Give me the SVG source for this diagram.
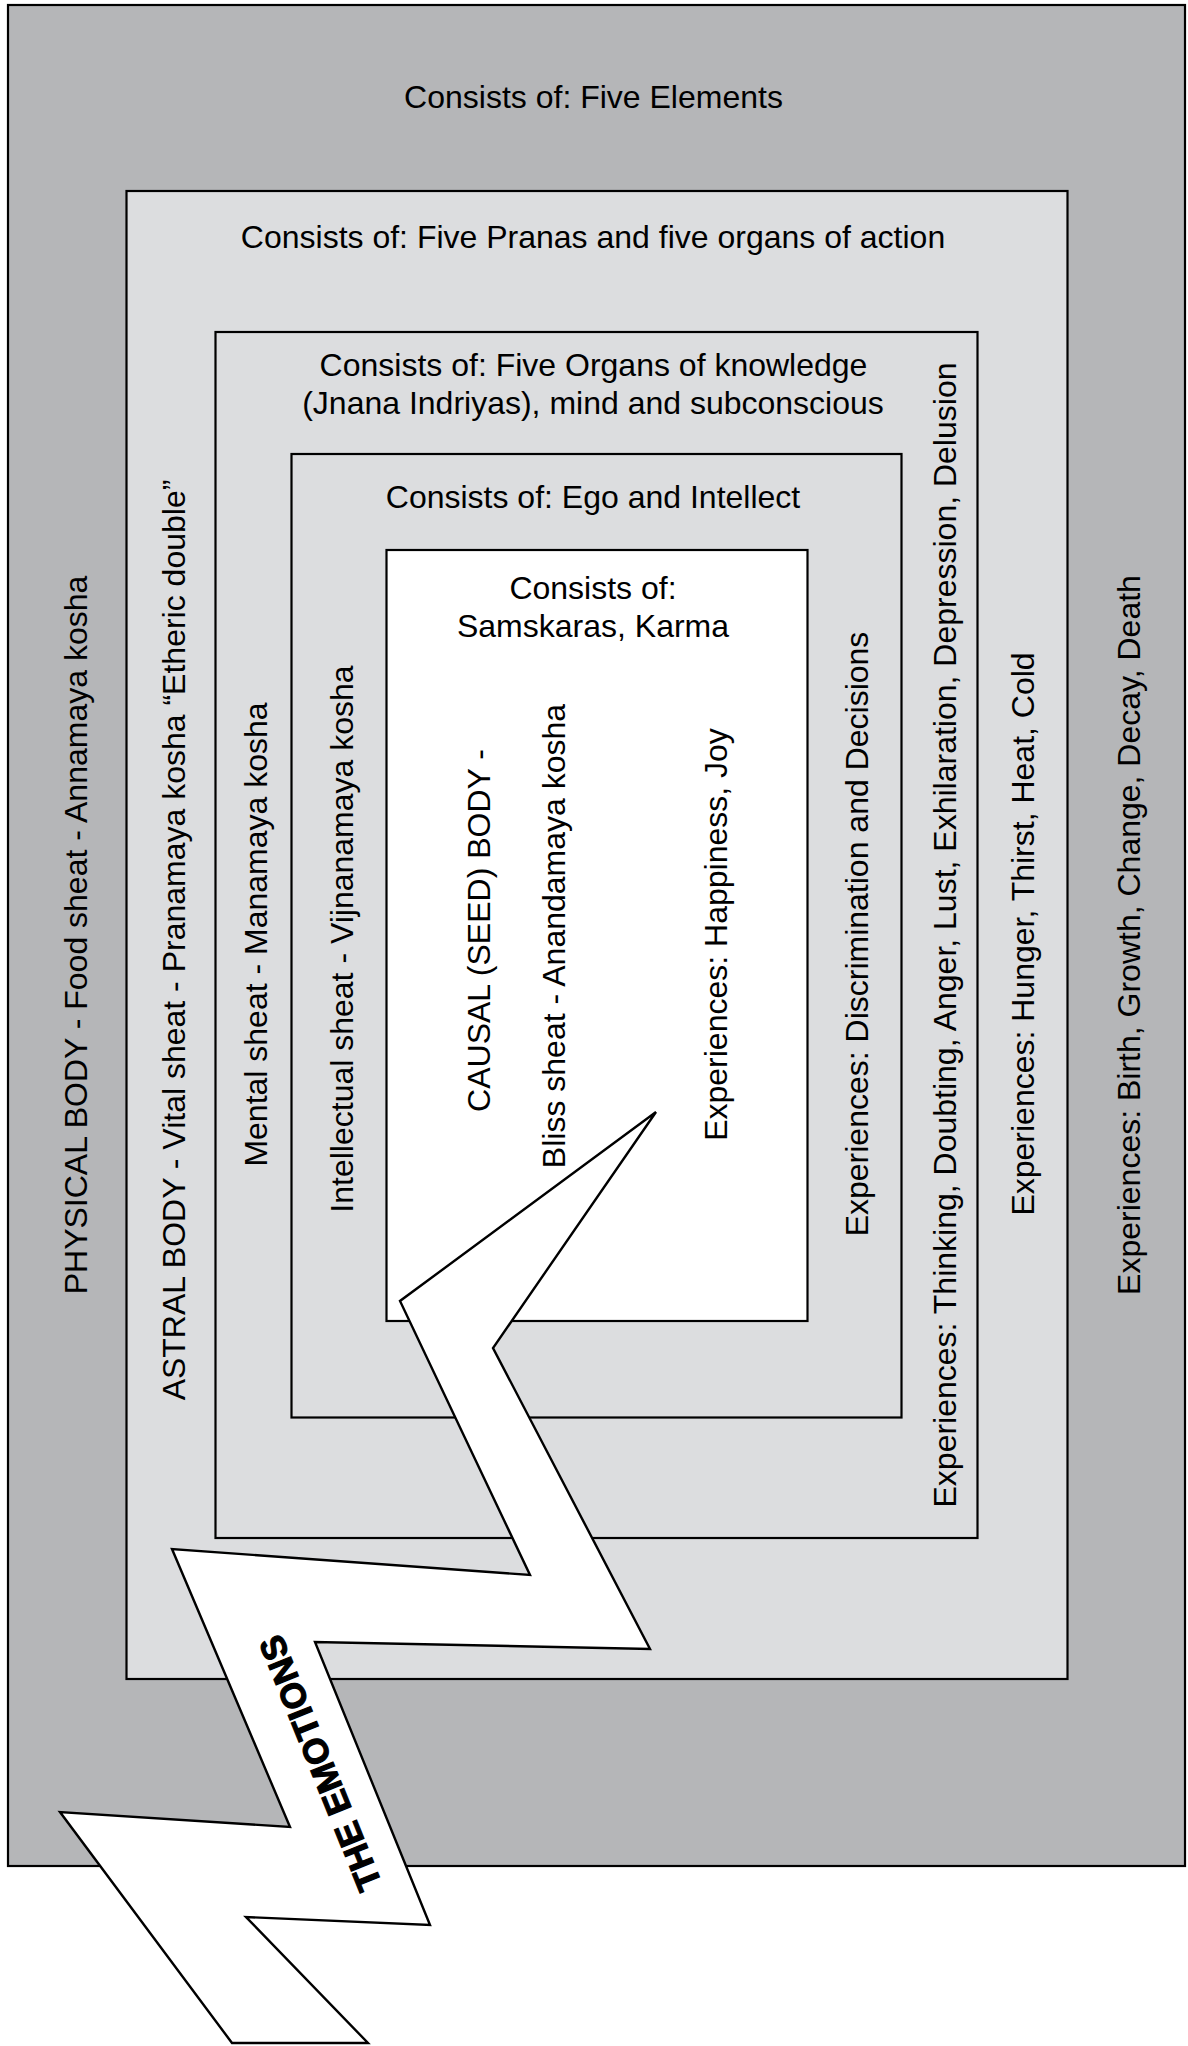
<svg xmlns="http://www.w3.org/2000/svg" width="1188" height="2046" viewBox="0 0 1188 2046">
<style>
  .box { stroke: #000; stroke-width: 2.2; }
  .dark { fill: #b5b6b8; }
  .light { fill: #dcdddf; }
  .white { fill: #ffffff; }
  .t { font-family: "Liberation Sans", Arial, Helvetica, sans-serif; font-size: 32px; fill: #000; text-anchor: middle; }
  .bolt { fill: #ffffff; stroke: #000; stroke-width: 2.4; stroke-linejoin: miter; }
  .bt { font-family: "Liberation Sans", Arial, Helvetica, sans-serif; font-size: 35px; font-weight: bold; fill: #000; stroke: #000; stroke-width: 1.2; text-anchor: middle; letter-spacing: 0.5px; }
</style>
<rect width="1188" height="2046" fill="#ffffff"/>

<g id="physical-body">
  <rect class="box dark" x="8" y="5" width="1177" height="1861"/>
  <text class="t" x="593.5" y="108">Consists of: Five Elements</text>
  <text class="t" transform="translate(87,935) rotate(-90)">PHYSICAL BODY - Food sheat - Annamaya kosha</text>
  <text class="t" transform="translate(1140,935) rotate(-90)">Experiences: Birth, Growth, Change, Decay, Death</text>
</g>

<g id="astral-body">
  <rect class="box light" x="126.5" y="191" width="941" height="1488"/>
  <text class="t" x="593" y="248">Consists of: Five Pranas and five organs of action</text>
  <text class="t" transform="translate(185,940) rotate(-90)">ASTRAL BODY - Vital sheat - Pranamaya kosha “Etheric double”</text>
  <text class="t" transform="translate(1034,934) rotate(-90)">Experiences: Hunger, Thirst, Heat, Cold</text>
</g>

<g id="mental-sheat">
  <rect class="box light" x="215.5" y="332" width="762" height="1206"/>
  <text class="t" x="593.5" y="376">Consists of: Five Organs of knowledge</text>
  <text class="t" x="593" y="414">(Jnana Indriyas), mind and subconscious</text>
  <text class="t" transform="translate(267,934.5) rotate(-90)">Mental sheat - Manamaya kosha</text>
  <text class="t" transform="translate(956,935) rotate(-90)">Experiences: Thinking, Doubting, Anger, Lust, Exhilaration, Depression, Delusion</text>
</g>

<g id="intellectual-sheat">
  <rect class="box light" x="291.5" y="454" width="610" height="963.5"/>
  <text class="t" x="593" y="508">Consists of: Ego and Intellect</text>
  <text class="t" transform="translate(352.5,939) rotate(-90)">Intellectual sheat - Vijnanamaya kosha</text>
  <text class="t" transform="translate(868,934) rotate(-90)">Experiences: Discrimination and Decisions</text>
</g>

<g id="causal-body">
  <rect class="box white" x="386.5" y="550" width="421" height="771"/>
  <text class="t" x="593" y="599">Consists of:</text>
  <text class="t" x="593" y="637">Samskaras, Karma</text>
  <text class="t" transform="translate(490,930.5) rotate(-90)">CAUSAL (SEED) BODY -</text>
  <text class="t" transform="translate(565,936) rotate(-90)">Bliss sheat - Anandamaya kosha</text>
  <text class="t" transform="translate(727,934.5) rotate(-90)">Experiences: Happiness, Joy</text>
</g>

<g id="connectors"></g>

<g id="the-emotions">
  <polygon class="bolt" points="656,1112 400,1301 530,1575 172,1549 290,1827 60,1812 232,2043 368,2043 246,1917 430,1925 315,1642 650,1649 493,1348"/>
  <text class="bt" transform="translate(320,1763) rotate(-112)" x="0" y="12.5">THE EMOTIONS</text>
</g>
</svg>
